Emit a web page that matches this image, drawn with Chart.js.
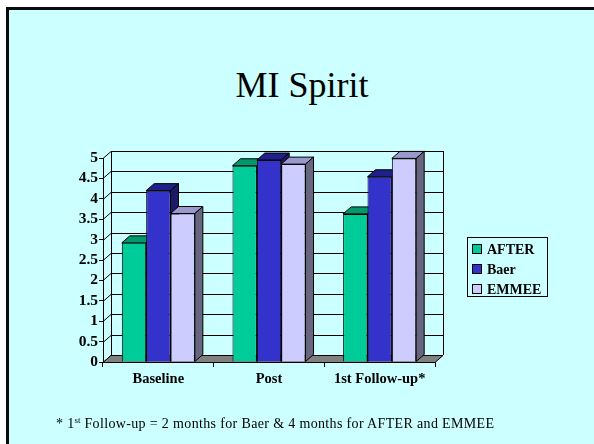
<!DOCTYPE html>
<html>
<head>
<meta charset="utf-8">
<title>MI Spirit</title>
<script src="https://cdn.jsdelivr.net/npm/chart.js@4.4.1/dist/chart.umd.min.js"></script>
<style>
    html, body { margin: 0; padding: 0; background: #fff; }
    body { width: 594px; height: 444px; position: relative; overflow: hidden; font-family: "Liberation Serif", "Times New Roman", serif; }
    #slide { position: absolute; left: 6px; top: 7px; width: 700px; height: 500px; background: #ccffff;
        border-left: 3px solid #0b0b0b; border-top: 3px solid #0b0b0b; }
    #chartCanvas { position: absolute; left: 0; top: 0; }
    #title { position: absolute; left: 0; width: 604px; top: 67px; text-align: center; font-size: 36px; line-height: 36px; color: #000; }
    #legend { position: absolute; left: 467px; top: 237px; width: 79px; height: 58px; border: 1px solid #000; }
    #legend .row { position: absolute; left: 4px; height: 20px; line-height: 20px; font-weight: bold; font-size: 14px; white-space: nowrap; }
    #legend .sw { display: inline-block; width: 8px; height: 8px; border: 1px solid #000; margin-right: 5px; vertical-align: 0px; }
    #note { position: absolute; left: 56px; top: 416px; font-size: 14px; letter-spacing: 0.35px; white-space: nowrap; color: #000; }
    #note sup { font-size: 9px; line-height: 0; vertical-align: 5px; letter-spacing: 0; }
</style>
</head>
<body>
<div id="slide"></div>
<div id="title">MI Spirit</div>
<canvas id="chartCanvas" width="594" height="444"></canvas>
<div id="legend"></div>
<div id="note">* 1<sup>st</sup> Follow-up = 2 months for Baer &amp; 4 months for AFTER and EMMEE</div>
<script>
(function () {
    'use strict';

    var categories = ['Baseline', 'Post', '1st Follow-up*'];
    var seriesNames = ['AFTER', 'Baer', 'EMMEE'];
    var afterValues = [2.92, 4.81, 3.63];
    var baerValues = [4.2, 4.95, 4.54];
    var emmeeValues = [3.64, 4.85, 4.99];
    var yTickValues = [0, 0.5, 1, 1.5, 2, 2.5, 3, 3.5, 4, 4.5, 5];
    var yTickLabels = ['0', '0.5', '1', '1.5', '2', '2.5', '3', '3.5', '4', '4.5', '5'];

    var frontColors = ['#00cc99', '#3333cc', '#ccccff'];
    var topColors = ['#00996b', '#20208a', '#9999cc'];
    var sideColors = ['#006b4c', '#1a1a66', '#666680'];
    var DX = 8, DY = 7;
    var family = '"Liberation Serif", "Times New Roman", serif';

    function poly(ctx, pts, fill) {
        ctx.beginPath();
        ctx.moveTo(pts[0][0], pts[0][1]);
        for (var i = 1; i < pts.length; i++) ctx.lineTo(pts[i][0], pts[i][1]);
        ctx.closePath();
        ctx.fillStyle = fill;
        ctx.fill();
        ctx.stroke();
    }

    // back wall, floor and the tops/sides of the bars (fronts are drawn by Chart.js)
    var box3d = {
        id: 'box3d',
        beforeDatasetsDraw: function (chart) {
            var ctx = chart.ctx, a = chart.chartArea, ys = chart.scales.y;
            ctx.save();
            ctx.lineWidth = 1;
            ctx.strokeStyle = '#000';
            ctx.beginPath();
            yTickValues.forEach(function (v) {
                var py = Math.round(ys.getPixelForValue(v)) + 0.5;
                ctx.moveTo(a.left, py);
                ctx.lineTo(a.left + DX, py - DY);
                ctx.lineTo(a.right + DX, py - DY);
            });
            ctx.moveTo(a.left + DX + 0.5, a.top - DY);
            ctx.lineTo(a.left + DX + 0.5, a.bottom - DY);
            ctx.moveTo(a.right + DX + 0.5, a.top - DY);
            ctx.lineTo(a.right + DX + 0.5, a.bottom - DY);
            ctx.stroke();

            var b = a.bottom + 0.5;
            poly(ctx, [[a.left, b], [a.right, b], [a.right + DX, b - DY], [a.left + DX, b - DY]], '#808080');

            for (var c = 0; c < categories.length; c++) {
                for (var d = 0; d < seriesNames.length; d++) {
                    var bar = chart.getDatasetMeta(d).data[c];
                    if (!bar) continue;
                    var x0 = bar.x - bar.width / 2, x1 = bar.x + bar.width / 2;
                    var yt = bar.y, yb = bar.base;
                    poly(ctx, [[x0, yt], [x0 + DX, yt - DY], [x1 + DX, yt - DY], [x1, yt]], topColors[d]);
                    poly(ctx, [[x1, yt], [x1 + DX, yt - DY], [x1 + DX, yb - DY], [x1, yb]], sideColors[d]);
                }
            }
            ctx.restore();
        }
    };

    var valueSets = [afterValues, baerValues, emmeeValues];
    var chart = new Chart(document.getElementById('chartCanvas').getContext('2d'), {
        type: 'bar',
        data: {
            labels: categories,
            datasets: seriesNames.map(function (name, i) {
                return {
                    label: name,
                    data: valueSets[i],
                    backgroundColor: frontColors[i],
                    borderColor: '#000',
                    borderWidth: 1,
                    barPercentage: 1,
                    categoryPercentage: 0.66
                };
            })
        },
        options: {
            responsive: false,
            animation: false,
            devicePixelRatio: 1,
            layout: { padding: { left: 63, right: 159, top: 158, bottom: 52 } },
            plugins: { legend: { display: false }, tooltip: { enabled: false }, title: { display: false } },
            scales: {
                x: {
                    grid: { drawOnChartArea: false, drawTicks: true, tickLength: 5, color: '#000' },
                    border: { display: false },
                    ticks: { color: '#000', font: { family: family, size: 14.5, weight: 'bold' }, padding: 4, maxRotation: 0, autoSkip: false },
                    afterFit: function (s) { s.height = 30; }
                },
                y: {
                    min: 0,
                    max: 5,
                    grid: { drawOnChartArea: false, drawTicks: true, tickLength: 4, color: '#000' },
                    border: { display: true, color: '#000' },
                    ticks: {
                        stepSize: 0.5,
                        autoSkip: false,
                        color: '#000',
                        font: { family: family, size: 15.5, weight: 'bold' },
                        padding: 1,
                        callback: function (v) {
                            var i = yTickValues.indexOf(v);
                            return i >= 0 ? yTickLabels[i] : '';
                        }
                    },
                    afterFit: function (s) { s.width = 40; }
                }
            }
        },
        plugins: [box3d]
    });

    // legend box built from the series arrays
    var leg = document.getElementById('legend');
    seriesNames.forEach(function (name, i) {
        var row = document.createElement('div');
        row.className = 'row';
        row.style.top = (2 + i * 20) + 'px';
        row.innerHTML = '<span class="sw" style="background:' + frontColors[i] + '"></span>' + name;
        leg.appendChild(row);
    });
})();
</script>
</body>
</html>
